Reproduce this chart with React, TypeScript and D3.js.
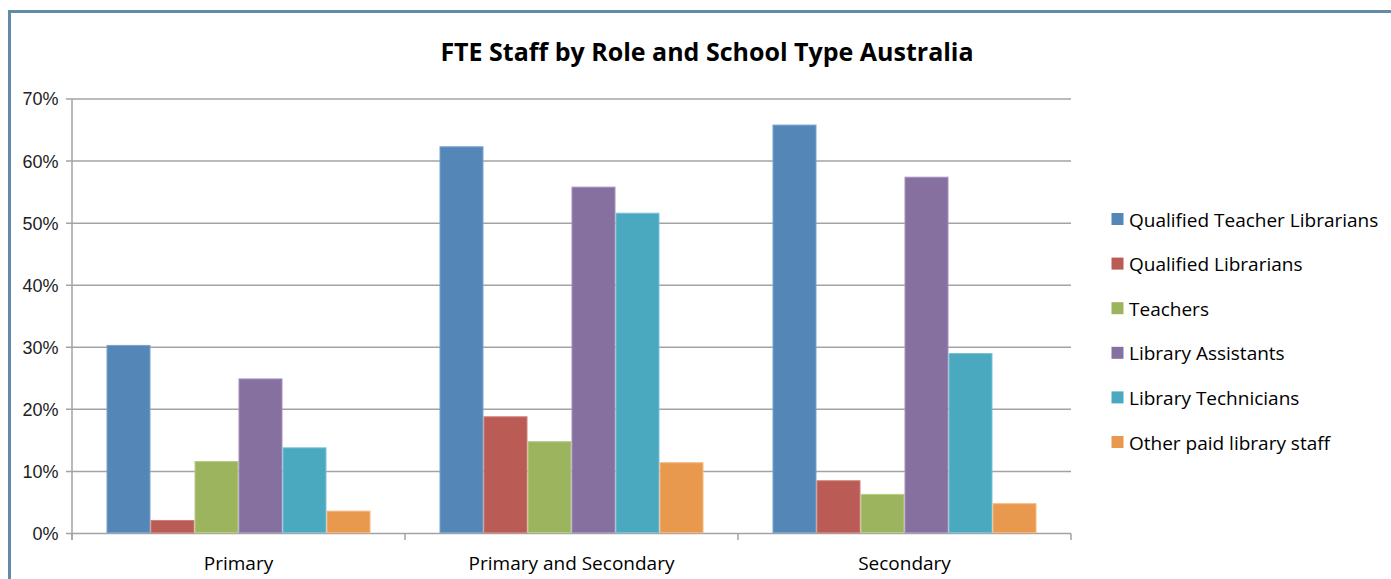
import React from "react";
import * as d3 from "d3";

const categories = ["Primary", "Primary and Secondary", "Secondary"];
const seriesNames = [
  "Qualified Teacher Librarians",
  "Qualified Librarians",
  "Teachers",
  "Library Assistants",
  "Library Technicians",
  "Other paid library staff",
];
const seriesColors = ["#5487b8", "#bb5b55", "#9db45f", "#8570a0", "#4aa8bf", "#e8994d"];
const seriesStrokes = ["#7aa3cc", "#d07f7a", "#b8cc88", "#a592bd", "#7cc3d6", "#f5b880"];
// values in %, per series, per category
const qualifiedTeacherLibrarians = [30.3, 62.3, 65.8];
const qualifiedLibrarians = [2.1, 18.8, 8.5];
const teachers = [11.6, 14.8, 6.3];
const libraryAssistants = [24.9, 55.8, 57.4];
const libraryTechnicians = [13.8, 51.6, 29.0];
const otherPaidStaff = [3.6, 11.4, 4.8];
const seriesValues = [
  qualifiedTeacherLibrarians,
  qualifiedLibrarians,
  teachers,
  libraryAssistants,
  libraryTechnicians,
  otherPaidStaff,
];
const yTicks = [0, 10, 20, 30, 40, 50, 60, 70];
const title = "FTE Staff by Role and School Type Australia";

const W = 1391;
const H = 579;
const plot = { left: 72, right: 1071, top: 99, bottom: 533.5 };
const bodyFont = "'Open Sans', Lato, sans-serif";

export default function App() {
  const x0 = d3.scaleBand<string>().domain(categories).range([plot.left, plot.right]).paddingInner(0).paddingOuter(0);
  const x1 = d3
    .scaleBand<number>()
    .domain(d3.range(seriesNames.length))
    .range([0, x0.bandwidth()])
    .paddingInner(0)
    .paddingOuter(0.784);
  const y = d3.scaleLinear().domain([0, 70]).range([plot.bottom, plot.top]);

  const catTicks = [plot.left, ...categories.map((c) => (x0(c) as number) + x0.bandwidth())];

  return (
    <svg
      width={W}
      height={H}
      style={{ position: "absolute", left: 0, top: 0, display: "block" }}
      xmlns="http://www.w3.org/2000/svg"
    >
      <rect x={0} y={0} width={W} height={H} fill="#ffffff" />
      <rect x={9.5} y={11.5} width={W + 20} height={H + 20} fill="none" stroke="#628ba6" strokeWidth={3} />
      <text
        x={707}
        y={61}
        textAnchor="middle"
        fontFamily={bodyFont}
        fontWeight="bold"
        fontSize={25}
        fill="#000"
      >
        {title}
      </text>

      {/* gridlines */}
      {yTicks.map((t) => (
        <line
          key={"g" + t}
          x1={plot.left - 6}
          x2={plot.right}
          y1={y(t)}
          y2={y(t)}
          stroke="#a3a3a3"
          strokeWidth={1.5}
        />
      ))}
      {/* y axis */}
      <line x1={plot.left} x2={plot.left} y1={plot.top} y2={plot.bottom + 6} stroke="#a3a3a3" strokeWidth={1.5} />
      {yTicks.map((t) => (
        <text
          key={"yl" + t}
          x={58.5}
          y={y(t)}
          dy="0.36em"
          textAnchor="end"
          fontFamily="'Liberation Sans', Arial, sans-serif"
          fontSize={18}
          fill="#222"
        >
          {t + "%"}
        </text>
      ))}
      {/* category ticks */}
      {catTicks.map((cx, i) => (
        <line key={"ct" + i} x1={cx} x2={cx} y1={plot.bottom} y2={plot.bottom + 6.5} stroke="#a3a3a3" strokeWidth={1.5} />
      ))}

      {/* bars */}
      {categories.map((c, ci) =>
        seriesValues.map((vals, si) => {
          const bx = (x0(c) as number) + (x1(si) as number);
          const by = y(vals[ci]);
          return (
            <rect
              key={c + si}
              x={bx + 0.5}
              y={by}
              width={x1.bandwidth() - 1}
              height={plot.bottom - by - 0.75}
              fill={seriesColors[si]}
              stroke={seriesStrokes[si]}
              strokeWidth={1}
            />
          );
        })
      )}

      {/* category labels */}
      {categories.map((c) => (
        <text
          key={"cl" + c}
          x={(x0(c) as number) + x0.bandwidth() / 2}
          y={570}
          textAnchor="middle"
          fontFamily={bodyFont}
          fontSize={19}
          fill="#000"
        >
          {c}
        </text>
      ))}

      {/* legend */}
      {seriesNames.map((n, i) => {
        const ly = 219 + i * 44.6;
        return (
          <g key={"lg" + i}>
            <rect x={1111.5} y={ly - 6} width={12} height={12} fill={seriesColors[i]} />
            <text x={1129} y={ly + 7.5} fontFamily={bodyFont} fontSize={19} fill="#000">
              {n}
            </text>
          </g>
        );
      })}
    </svg>
  );
}
